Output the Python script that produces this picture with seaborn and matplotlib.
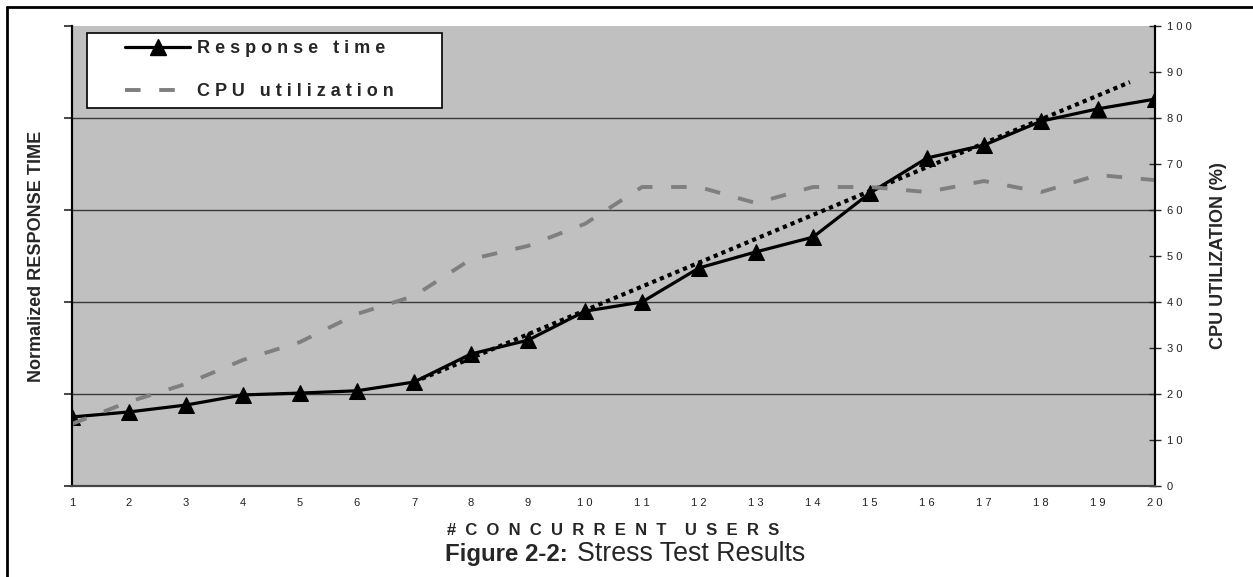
import pandas as pd
import seaborn as sns
import matplotlib.pyplot as plt
from matplotlib.lines import Line2D
from matplotlib.patches import Rectangle

# data (both series on the 0-100 scale of the right axis)
users = list(range(1, 21))
response_time = [15.0, 16.1, 17.6, 19.8, 20.2, 20.7, 22.6, 28.7, 31.7, 38.0,
                 40.0, 47.4, 50.9, 54.1, 63.7, 71.3, 74.1, 79.3, 82.0, 84.1]
cpu_util = [13.5, 18.3, 22.2, 27.4, 31.3, 37.4, 41.3, 49.3, 52.2, 57.0,
            65.0, 65.0, 61.5, 65.0, 65.0, 63.9, 66.3, 63.9, 67.6, 66.5]
# linear trend line on the response time (start / end as drawn)
trend_x = [7, 19.56]
trend_y = [22.6, 87.8]

x_ticklabels = [" ".join(str(u)) for u in users]
right_ticks = list(range(0, 101, 10))
right_ticklabels = [" ".join(str(t)) for t in right_ticks]

sns.set_style("white")
plt.rcParams['font.family'] = ['Liberation Sans', 'DejaVu Sans']

df = pd.DataFrame({'users': users, 'resp': response_time, 'cpu': cpu_util})
trend = pd.DataFrame({'x': trend_x, 'y': trend_y})

fig = plt.figure(figsize=(12.53, 5.77), dpi=100)
ax = fig.add_axes([72 / 1253, 91 / 577, 1083 / 1253, 460 / 577])
ax.set_facecolor('#c0c0c0')

# grid at 20/40/60/80
for g in [20, 40, 60, 80]:
    ax.axhline(g, color='#3a3a3a', lw=1.0, zorder=1)

sns.lineplot(data=df, x='users', y='resp', ax=ax, color='black', lw=2.3,
             marker='^', markersize=12, markeredgecolor='black', zorder=4)
sns.lineplot(data=trend, x='x', y='y', ax=ax, color='black', lw=3,
             linestyle=(0, (1, 1)), zorder=3)

ax2 = ax.twinx()
sns.lineplot(data=df, x='users', y='cpu', ax=ax2, color='#7f7f7f', lw=2.8,
             linestyle=(0, (4, 4.8)), zorder=2)

ax.set_xlim(1, 20)
ax.set_ylim(0, 100)
ax2.set_ylim(0, 100)

ax.set_xticks(users)
ax.set_xticklabels(x_ticklabels, fontsize=8, color='#222222')
ax.tick_params(axis='x', direction='inout', length=7, width=1, pad=5)
ax.set_yticks([0, 20, 40, 60, 80, 100])
ax.set_yticklabels([])
ax.tick_params(axis='y', direction='out', length=6, width=1.2)

ax2.set_yticks(right_ticks)
ax2.set_yticklabels(right_ticklabels, fontsize=8, color='#222222')
ax2.tick_params(axis='y', direction='inout', length=9, width=1, pad=4)

for a in (ax, ax2):
    a.spines['top'].set_visible(False)
    a.spines['left'].set_color('black')
    a.spines['left'].set_linewidth(1.5)
    a.spines['right'].set_color('black')
    a.spines['right'].set_linewidth(1.5)
    a.spines['bottom'].set_color('#444444')
    a.spines['bottom'].set_linewidth(1.5)

ax.set_xlabel("#  C  O  N  C  U  R  R  E  N  T    U  S  E  R  S", fontsize=12,
              fontweight='bold', labelpad=11)
ax.set_ylabel("Normalized RESPONSE TIME", fontsize=13, fontweight='bold', labelpad=10)
ax2.set_ylabel("CPU UTILIZATION (%)", fontsize=13, fontweight='bold', labelpad=13)

# legend: white box with black border, entries inside
ax2.add_patch(Rectangle((15 / 1083, 378 / 460), 355 / 1083, 75 / 460,
                        transform=ax2.transAxes, facecolor='white',
                        edgecolor='black', lw=1.2, zorder=5))
handles = [
    Line2D([], [], color='black', lw=2.3, marker='^', markersize=12),
    Line2D([], [], color='#7f7f7f', lw=2.8, linestyle=(0, (4, 4.8))),
]
labels = ["R e s p o n s e   t i m e", "C P U   u t i l i z a t i o n"]
leg = ax2.legend(handles, labels, loc='upper left',
                 bbox_to_anchor=(53 / 1083, 446 / 460), borderaxespad=0,
                 frameon=False, borderpad=0, handlelength=3.6, handletextpad=0.4,
                 labelspacing=1.45, prop={'weight': 'bold', 'size': 13})
leg.set_zorder(6)

# caption: bold "Figure 2-2:" then regular text
fig.text(445 / 1253, 16 / 577, "Figure 2-2:", fontsize=17.3, fontweight='bold',
         ha='left', va='baseline')
fig.text(577 / 1253, 16 / 577, "Stress Test Results", fontsize=19.3,
         ha='left', va='baseline')

# page border (left and top)
fig.add_artist(Line2D([7 / 1253, 7 / 1253], [0, 1 - 7 / 577], color='black', lw=2))
fig.add_artist(Line2D([7 / 1253, 1], [1 - 7 / 577, 1 - 7 / 577], color='black', lw=2))

fig.savefig('out.png', dpi=100, facecolor='white')
